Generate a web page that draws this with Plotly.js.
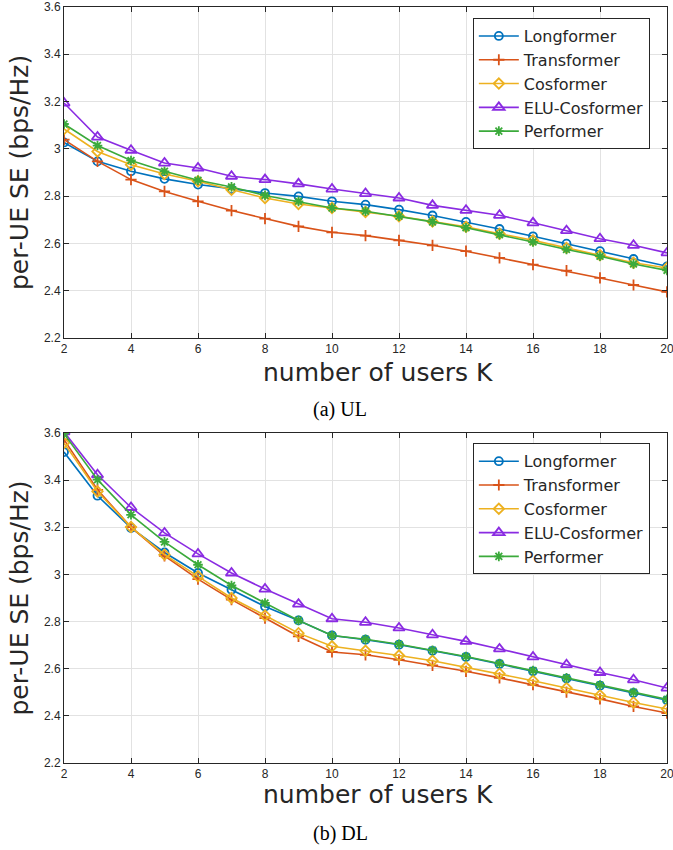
<!DOCTYPE html>
<html>
<head>
<meta charset="utf-8">
<script src="https://cdn.plot.ly/plotly-3.0.1.min.js"></script>
<style>html,body{margin:0;padding:0;background:#fff;}#chart{width:673px;height:850px;}</style>
</head>
<body>
<div id="chart"></div>
<script>
const K = [2,3,4,5,6,7,8,9,10,11,12,13,14,15,16,17,18,19,20];
const seriesNames = ['Longformer','Transformer','Cosformer','ELU-Cosformer','Performer'];
const xTickVals = [2,4,6,8,10,12,14,16,18,20];
const yTickVals = [2.2,2.4,2.6,2.8,3,3.2,3.4,3.6];

// (a) UL
const ulLongformer  = [3.027,2.947,2.905,2.873,2.849,2.830,2.813,2.799,2.778,2.764,2.743,2.718,2.691,2.661,2.630,2.599,2.567,2.534,2.503];
const ulTransformer = [3.039,2.947,2.870,2.820,2.778,2.739,2.705,2.672,2.647,2.633,2.613,2.592,2.567,2.539,2.510,2.485,2.454,2.424,2.395];
const ulCosformer   = [3.084,2.989,2.933,2.894,2.863,2.827,2.792,2.767,2.750,2.733,2.715,2.693,2.670,2.641,2.613,2.581,2.550,2.518,2.496];
const ulELUCosformer= [3.194,3.050,2.994,2.940,2.919,2.884,2.870,2.852,2.830,2.811,2.792,2.761,2.740,2.719,2.687,2.654,2.620,2.592,2.560];
const ulPerformer   = [3.105,3.014,2.951,2.905,2.867,2.839,2.803,2.778,2.750,2.736,2.715,2.691,2.666,2.637,2.606,2.574,2.546,2.513,2.486];

// (b) DL
const dlLongformer  = [3.519,3.334,3.197,3.093,3.006,2.935,2.864,2.805,2.741,2.723,2.702,2.676,2.650,2.620,2.589,2.558,2.528,2.497,2.466];
const dlTransformer = [3.572,3.359,3.201,3.079,2.980,2.893,2.815,2.737,2.671,2.659,2.638,2.614,2.589,2.561,2.532,2.501,2.472,2.440,2.412];
const dlCosformer   = [3.558,3.352,3.201,3.084,2.992,2.900,2.826,2.751,2.695,2.676,2.656,2.634,2.606,2.579,2.549,2.518,2.487,2.457,2.429];
const dlELUCosformer= [3.605,3.423,3.284,3.176,3.087,3.006,2.938,2.874,2.812,2.797,2.773,2.744,2.716,2.684,2.650,2.617,2.584,2.553,2.518];
const dlPerformer   = [3.597,3.402,3.253,3.138,3.041,2.953,2.879,2.805,2.741,2.725,2.704,2.678,2.652,2.622,2.592,2.561,2.531,2.500,2.470];

const colors = ['#0072BD','#D95319','#EDB120','#8A2BE2','#3BAA3B'];
const symbols = ['circle-open','cross-thin-open','diamond-open','triangle-up-open','asterisk-open'];
const msizes = [8,8,8,10,8];

const ulData = [ulLongformer, ulTransformer, ulCosformer, ulELUCosformer, ulPerformer];
const dlData = [dlLongformer, dlTransformer, dlCosformer, dlELUCosformer, dlPerformer];

const traces = [];
ulData.forEach((ys,i)=>{
  traces.push({x:K, y:ys, name:seriesNames[i], type:'scatter', mode:'lines+markers',
    xaxis:'x', yaxis:'y', legend:'legend',
    line:{color:colors[i], width:1.6},
    marker:{symbol:symbols[i], size:msizes[i], color:colors[i], line:{color:colors[i], width:1.8}}});
});
dlData.forEach((ys,i)=>{
  traces.push({x:K, y:ys, name:seriesNames[i], type:'scatter', mode:'lines+markers',
    xaxis:'x2', yaxis:'y2', legend:'legend2',
    line:{color:colors[i], width:1.6},
    marker:{symbol:symbols[i], size:msizes[i], color:colors[i], line:{color:colors[i], width:1.8}}});
});

const axisColor = '#262626';
const tickFont = {family:'Liberation Sans, Arial, sans-serif', size:12, color:axisColor};
const titleFont = {family:'DejaVu Sans, sans-serif', size:25, color:axisColor};

function xAx(anchor){
  return {domain:[0,1], range:[2,20], tickvals:xTickVals, ticks:'inside', ticklen:5, tickcolor:axisColor,
    showline:true, mirror:'allticks', linecolor:axisColor, linewidth:1, showgrid:true, gridcolor:'#e2e2e2',
    zeroline:false, tickfont:tickFont, anchor:anchor, fixedrange:true, ticklabeloverflow:'allow'};
}
function yAx(domain, anchor){
  return {domain:domain, range:[2.2,3.6], tickvals:yTickVals, ticks:'inside', ticklen:5, tickcolor:axisColor,
    showline:true, mirror:'allticks', linecolor:axisColor, linewidth:1, showgrid:true, gridcolor:'#e2e2e2',
    zeroline:false, tickfont:tickFont, anchor:anchor, fixedrange:true, ticklabeloverflow:'allow',
    title:{text:'per-UE SE (bps/Hz)', font:titleFont, standoff:8}};
}

const legendStyle = (y)=>({x:0.678, y:y, xanchor:'left', yanchor:'top', bgcolor:'#ffffff',
  bordercolor:axisColor, borderwidth:1, font:{family:'DejaVu Sans, sans-serif', size:16, color:axisColor},
  itemwidth:40, tracegroupgap:0});

const layout = {
  width:673, height:850,
  margin:{l:64, r:6, t:7, b:87},
  paper_bgcolor:'#ffffff', plot_bgcolor:'#ffffff',
  showlegend:true,
  xaxis:xAx('y'),
  yaxis:yAx([0.5622,1],'x'),
  xaxis2:xAx('y2'),
  yaxis2:yAx([0,0.4365],'x2'),
  legend:legendStyle(0.9854),
  legend2:legendStyle(0.4229),
  annotations:[
    {text:'number of users K', xref:'paper', yref:'paper', x:0.5207, y:0.5159, xanchor:'center', yanchor:'middle', showarrow:false, font:titleFont},
    {text:'number of users K', xref:'paper', yref:'paper', x:0.5207, y:-0.0423, xanchor:'center', yanchor:'middle', showarrow:false, font:titleFont},
    {text:'(a) UL', xref:'paper', yref:'paper', x:0.458, y:0.467, xanchor:'center', yanchor:'middle', showarrow:false, font:{family:'Liberation Serif, Times New Roman, serif', size:20, color:'#000'}},
    {text:'(b) DL', xref:'paper', yref:'paper', x:0.458, y:-0.0926, xanchor:'center', yanchor:'middle', showarrow:false, font:{family:'Liberation Serif, Times New Roman, serif', size:20, color:'#000'}}
  ]
};

Plotly.newPlot('chart', traces, layout, {displayModeBar:false, staticPlot:true});
</script>
</body>
</html>
